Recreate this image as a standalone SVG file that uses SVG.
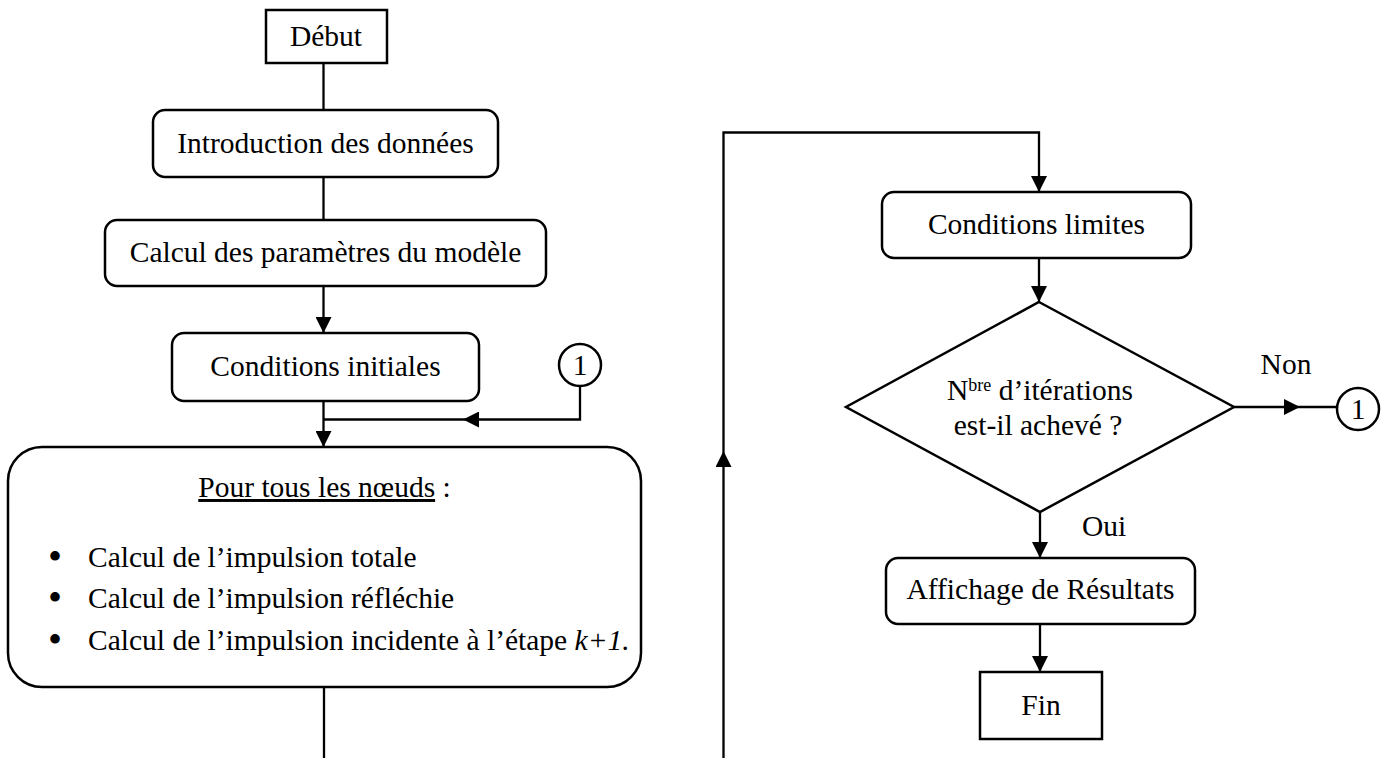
<svg xmlns="http://www.w3.org/2000/svg" width="1391" height="758" viewBox="0 0 1391 758">
  <defs>
    <style>
      .box { fill: #ffffff; stroke: #000000; stroke-width: 2.5; }
      .wire { fill: none; stroke: #000000; stroke-width: 2.3; }
      .lbl { font-family: "Liberation Serif", "Times New Roman", serif; font-size: 29.5px; fill: #000000; }
      .mid { text-anchor: middle; }
      .dot { font-family: "Liberation Serif", "Times New Roman", serif; font-size: 40px; text-anchor: middle; fill: #000000; }
    </style>
    <marker id="arrow" viewBox="0 0 16 16" refX="16" refY="8" markerWidth="16" markerHeight="16" markerUnits="userSpaceOnUse" orient="auto">
      <path d="M0,0 L16,8 L0,16 z" fill="#000000"/>
    </marker>
  </defs>

  <rect width="1391" height="758" fill="#ffffff"/>

  <!-- connectors -->
  <g id="connectors">
    <line class="wire" x1="323.5" y1="63" x2="323.5" y2="110"/>
    <line class="wire" x1="323.5" y1="177" x2="323.5" y2="220"/>
    <line class="wire" x1="323.5" y1="286" x2="323.5" y2="333" marker-end="url(#arrow)"/>
    <line class="wire" x1="323.5" y1="401" x2="323.5" y2="447" marker-end="url(#arrow)"/>
    <!-- return from connector 1 -->
    <polyline class="wire" points="580,386 580,419.5 463,419.5" marker-end="url(#arrow)"/>
    <line class="wire" x1="463" y1="419.5" x2="323.5" y2="419.5"/>
    <!-- loop from the node block to the boundary conditions -->
    <line class="wire" x1="324" y1="687" x2="324" y2="758"/>
    <line class="wire" x1="723.5" y1="758" x2="723.5" y2="451" marker-end="url(#arrow)"/>
    <polyline class="wire" points="723.5,451 723.5,132.5 1039,132.5 1039,192" marker-end="url(#arrow)"/>
    <line class="wire" x1="1039" y1="258" x2="1039" y2="302" marker-end="url(#arrow)"/>
    <line class="wire" x1="1234" y1="407" x2="1300" y2="407" marker-end="url(#arrow)"/>
    <line class="wire" x1="1300" y1="407" x2="1337" y2="407"/>
    <line class="wire" x1="1040" y1="512" x2="1040" y2="558" marker-end="url(#arrow)"/>
    <line class="wire" x1="1040" y1="624" x2="1040" y2="672" marker-end="url(#arrow)"/>
    <text class="lbl mid" x="1286" y="374">Non</text>
    <text class="lbl" x="1082" y="536">Oui</text>
  </g>

  <g id="debut">
    <rect class="box" x="266" y="10" width="121" height="53"/>
    <text class="lbl mid" x="326" y="46">Début</text>
  </g>

  <g id="introduction">
    <rect class="box" x="153" y="110" width="345" height="67" rx="12"/>
    <text class="lbl mid" x="325.5" y="153">Introduction des données</text>
  </g>

  <g id="parametres">
    <rect class="box" x="105" y="220" width="441" height="66" rx="12"/>
    <text class="lbl mid" x="325.5" y="262">Calcul des paramètres du modèle</text>
  </g>

  <g id="conditions-initiales">
    <rect class="box" x="172" y="333" width="307" height="68" rx="12"/>
    <text class="lbl mid" x="325.5" y="376">Conditions initiales</text>
  </g>

  <g id="connecteur-1-gauche">
    <circle class="box" cx="580" cy="365" r="21"/>
    <text class="lbl mid" x="580" y="375">1</text>
  </g>

  <g id="noeuds">
    <rect class="box" x="8" y="447" width="633" height="240" rx="34"/>
    <text class="lbl mid" x="324.5" y="497"><tspan text-decoration="underline">Pour tous les nœuds</tspan> :</text>
    <text class="dot" x="55" y="570">•</text>
    <text class="dot" x="55" y="611">•</text>
    <text class="dot" x="55" y="653">•</text>
    <text class="lbl" x="88" y="567">Calcul de l’impulsion totale</text>
    <text class="lbl" x="88" y="608">Calcul de l’impulsion réfléchie</text>
    <text class="lbl" x="88" y="650">Calcul de l’impulsion incidente à l’étape <tspan font-style="italic">k+1.</tspan></text>
  </g>

  <g id="conditions-limites">
    <rect class="box" x="882" y="192" width="309" height="66" rx="12"/>
    <text class="lbl mid" x="1036.5" y="234">Conditions limites</text>
  </g>

  <g id="test-iterations">
    <polygon class="box" points="1039,302 1234,407 1040,512 846,407"/>
    <text class="lbl mid" x="1040" y="400">N<tspan font-size="18" dy="-9">bre</tspan><tspan dy="9"> d’itérations</tspan></text>
    <text class="lbl mid" x="1038" y="435">est-il achevé ?</text>
  </g>

  <g id="connecteur-1-droite">
    <circle class="box" cx="1358" cy="409" r="21"/>
    <text class="lbl mid" x="1358" y="419">1</text>
  </g>

  <g id="affichage">
    <rect class="box" x="886" y="558" width="309" height="66" rx="12"/>
    <text class="lbl mid" x="1040.5" y="599">Affichage de Résultats</text>
  </g>

  <g id="fin">
    <rect class="box" x="980" y="672" width="122" height="67"/>
    <text class="lbl mid" x="1041" y="715">Fin</text>
  </g>
</svg>
